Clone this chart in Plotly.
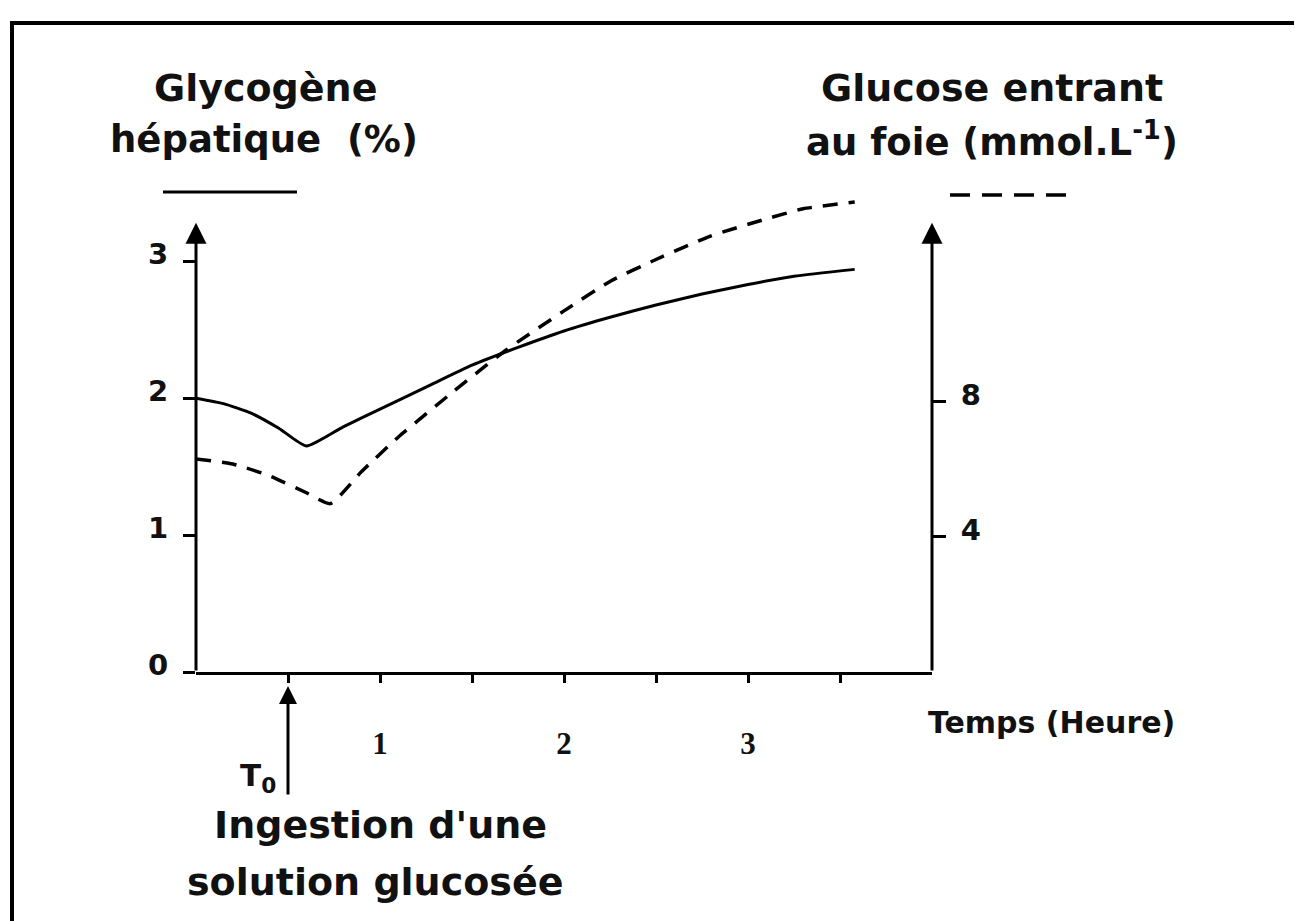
import plotly.graph_objects as go

# ---- data ----
temps_glycogene = [0, 0.15, 0.3, 0.45, 0.6, 0.8, 1.0, 1.25, 1.5, 1.75, 2.0, 2.25, 2.5, 2.75, 3.0, 3.25, 3.58]
glycogene = [2.0, 1.96, 1.89, 1.78, 1.65, 1.79, 1.92, 2.08, 2.24, 2.37, 2.49, 2.59, 2.68, 2.76, 2.83, 2.89, 2.94]

temps_glucose = [0, 0.2, 0.4, 0.6, 0.73, 0.9, 1.1, 1.4, 1.68, 2.0, 2.25, 2.5, 2.8, 3.1, 3.3, 3.58]
glucose = [6.3, 6.15, 5.8, 5.3, 4.98, 5.93, 6.95, 8.3, 9.5, 10.68, 11.55, 12.2, 12.9, 13.4, 13.7, 13.9]

x_tickvals = [0.5, 1, 1.5, 2, 2.5, 3, 3.5]
x_ticktext = ["", "1", "", "2", "", "3", ""]
y_left_ticks = [0, 1, 2, 3]
y_right_ticks = [4, 8]

# ---- layout geometry (page pixels; the page body adds an 8px offset) ----
OFF = 8
W, H = 1294, 913
L, R, T, B = 196, 932, 179, 672
LEFT_MAX = 3.6
RATIO = 4.05
RIGHT_MAX = LEFT_MAX * RATIO

def px(xp):
    return (xp - L) / (R - L)

def py(yp):
    return (B - yp) / (B - T)

FONT = "DejaVu Sans"

fig = go.Figure()
fig.add_trace(go.Scatter(x=temps_glycogene, y=glycogene, mode="lines",
                         line=dict(color="black", width=3, shape="spline", smoothing=0.5),
                         yaxis="y"))
fig.add_trace(go.Scatter(x=temps_glucose, y=glucose, mode="lines",
                         line=dict(color="black", width=3.5, dash="15px,11px", shape="spline", smoothing=0.5),
                         yaxis="y2"))

annotations = []
def txt(s, x, y, size, family=FONT, bold=True):
    annotations.append(dict(text=(f"<b>{s}</b>" if bold else s), x=px(x), y=py(y),
                            xref="paper", yref="paper", showarrow=False,
                            xanchor="center", yanchor="middle",
                            font=dict(family=family, size=size, color="#111")))

txt("Glycogène", 265, 88, 38)
txt("hépatique\u00a0\u00a0(%)", 264, 140, 37)
txt("Glucose entrant", 992, 88, 38)
txt("au foie (mmol.L<sup>-1</sup>)", 992, 140, 37)
txt("Temps (Heure)", 1051, 722, 30)
txt("T<sub>0</sub>", 258, 777, 31)
txt("Ingestion d'une", 380, 825, 38)
txt("solution glucosée", 375, 882, 38)

# axis arrows (left and right)
annotations.append(dict(x=0, y=3.28, ax=0, ay=0, xref="x", yref="y", axref="x", ayref="y",
                        text="", showarrow=True, arrowhead=2, arrowsize=1.4, arrowwidth=3,
                        arrowcolor="black"))
annotations.append(dict(x=4, y=3.28 * RATIO, ax=4, ay=0, xref="x", yref="y2", axref="x", ayref="y2",
                        text="", showarrow=True, arrowhead=2, arrowsize=1.4, arrowwidth=3,
                        arrowcolor="black"))
# T0 arrow
annotations.append(dict(x=0.5, y=py(686), xref="x", yref="paper", ax=0, ay=110,
                        text="", showarrow=True, arrowhead=2, arrowsize=1.2, arrowwidth=3,
                        arrowcolor="black"))

shapes = [
    dict(type="line", xref="paper", yref="paper", x0=px(163), x1=px(297), y0=py(192), y1=py(192),
         line=dict(color="black", width=3)),
    dict(type="line", xref="paper", yref="paper", x0=px(950), x1=px(1068), y0=py(195), y1=py(195),
         line=dict(color="black", width=3.5, dash="20px,12px")),
    dict(type="rect", xref="paper", yref="paper", x0=px(12), x1=px(1296), y0=py(940), y1=py(23),
         line=dict(color="black", width=4)),
]

fig.update_layout(
    width=W, height=H,
    margin=dict(l=L - OFF, r=W - (R - OFF), t=T - OFF, b=H - (B - OFF), pad=0),
    paper_bgcolor="white", plot_bgcolor="white",
    showlegend=False,
    annotations=annotations,
    shapes=shapes,
    xaxis=dict(range=[0, 4], showgrid=False, zeroline=False, showline=True,
               linecolor="black", linewidth=3,
               tickvals=x_tickvals, ticktext=x_ticktext, ticks="outside",
               ticklen=8, tickwidth=3, tickcolor="black",
               tickfont=dict(family="Liberation Serif", size=31, color="#111", weight="bold"),
               ticklabelstandoff=34),
    yaxis=dict(range=[0, LEFT_MAX], showgrid=False, zeroline=False, showline=False,
               tickvals=y_left_ticks, ticks="outside", ticklen=12, tickwidth=3, tickcolor="black",
               tickfont=dict(family=FONT, size=29, color="#111", weight="bold"),
               ticklabelshift=-7, ticklabelstandoff=9),
    yaxis2=dict(range=[0, RIGHT_MAX], overlaying="y", side="right", anchor="x",
                showgrid=False, zeroline=False, showline=False,
                tickvals=y_right_ticks, ticks="outside", ticklen=13, tickwidth=3, tickcolor="black",
                tickfont=dict(family=FONT, size=29, color="#111", weight="bold"),
                ticklabelshift=-7, ticklabelstandoff=9),
)

fig.write_html("out.html")
